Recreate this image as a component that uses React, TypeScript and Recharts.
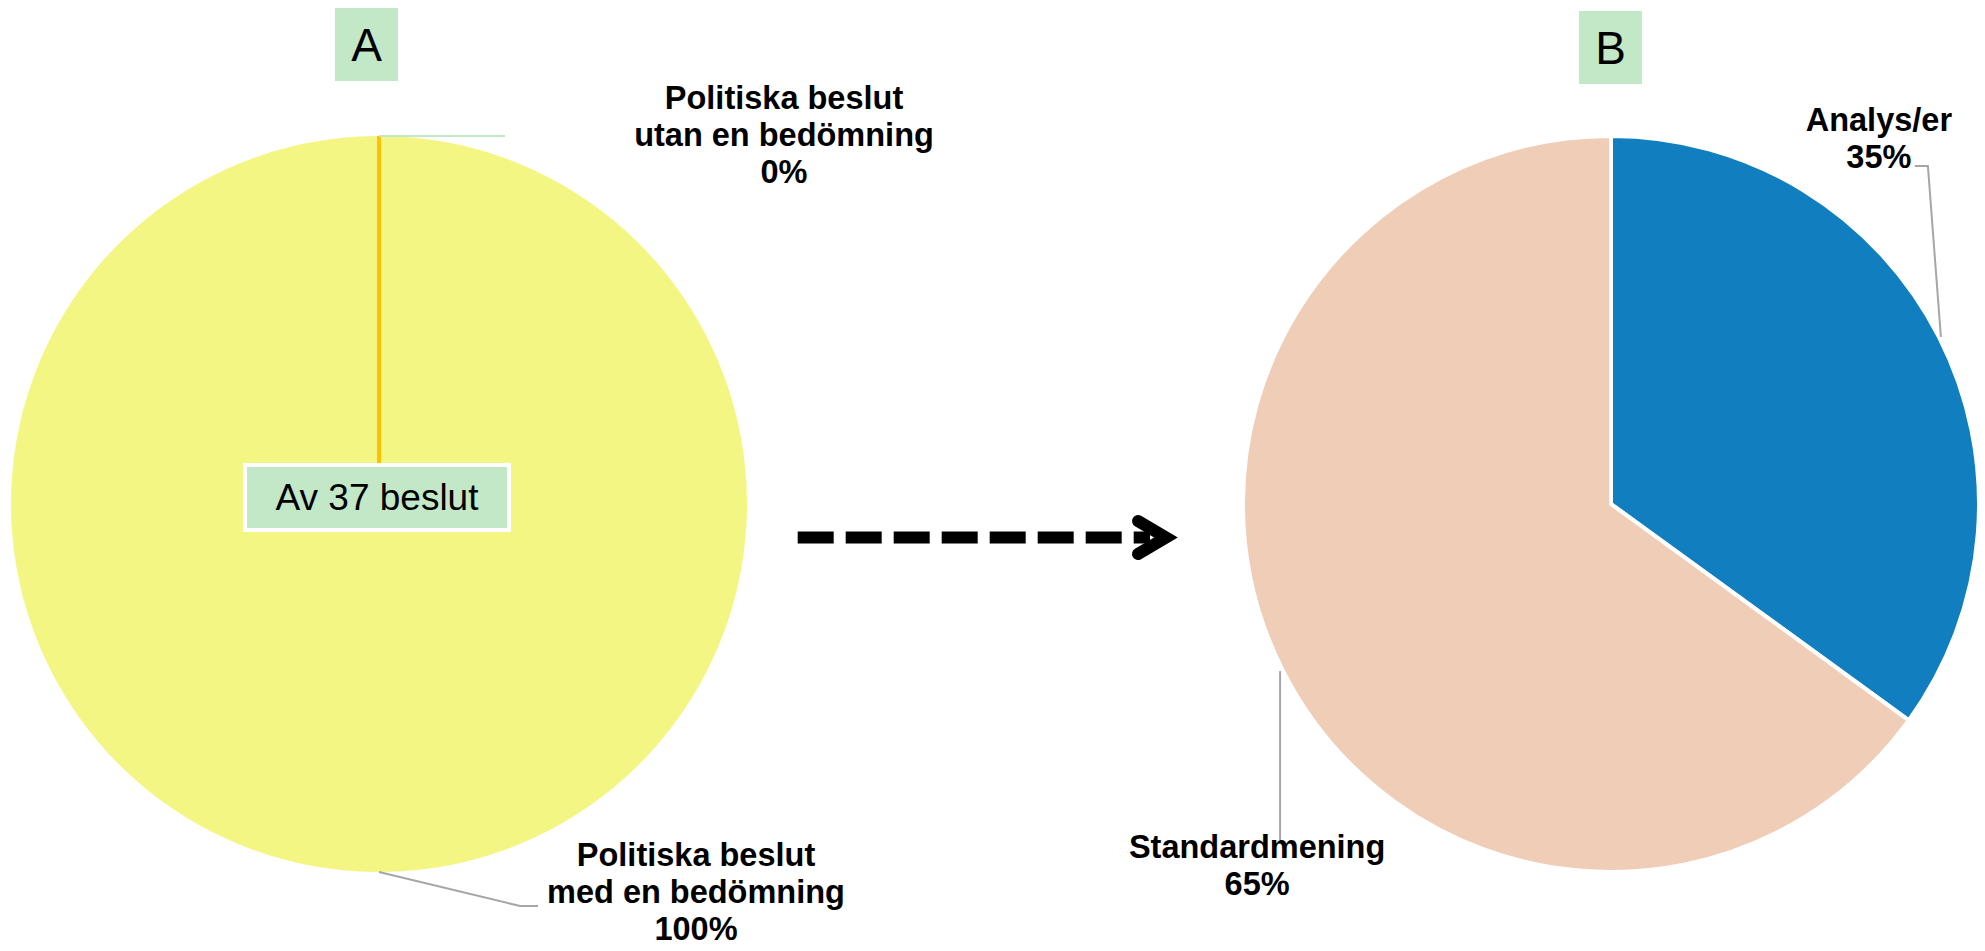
import React from "react";
import { Cell, Pie, PieChart } from "recharts";

// A: andel politiska beslut med/utan bedömning
const beslutCategories = ["Politiska beslut\nmed en bedömning", "Politiska beslut\nutan en bedömning"];
const beslutShares = [100, 0];
const beslutTotal = 37;

// B: typ av bedömning
const bedomningCategories = ["Analys/er", "Standardmening"];
const bedomningShares = [35, 65];

const FONT = "'Liberation Sans', Arial, sans-serif";
const RADIAN = Math.PI / 180;
const GRAY = "#A6A6A6";
const MINT = "#C2E8C8";

const beslutData = beslutCategories.map((name, i) => ({ name, value: beslutShares[i] }));
const bedomningData = bedomningCategories.map((name, i) => ({ name, value: bedomningShares[i] }));

type Layout = { leader: number[][]; color: string; tx: number; ty: number; spoke?: string };

// label placement relative to the point on the rim at the slice's mid angle
const layoutA: Layout[] = [
  { leader: [[0, 0], [141, 34], [159, 34]], color: GRAY, tx: 317, ty: -6 },
  { leader: [[0, 0], [126, 0]], color: MINT, tx: 405, ty: -27, spoke: "#FFC000" },
];
const layoutB: Layout[] = [
  { leader: [[2, 0], [-11, -171], [-24, -171]], color: GRAY, tx: -60, ty: -206 },
  { leader: [[-3, 0], [-3, 169]], color: GRAY, tx: -26, ty: 187 },
];

function makeLabel(layout: Layout[]) {
  return (props: any) => {
    const { cx, cy, midAngle, outerRadius, percent, index, name } = props;
    const ex = cx + outerRadius * Math.cos(-midAngle * RADIAN);
    const ey = cy + outerRadius * Math.sin(-midAngle * RADIAN);
    const l = layout[index];
    const lines = [...String(name).split("\n"), `${Math.round(percent * 100)}%`];
    return (
      <g key={`lbl-${index}`}>
        {l.spoke && <line x1={cx} y1={cy} x2={ex} y2={ey} stroke={l.spoke} strokeWidth={4} />}
        <polyline
          points={l.leader.map(([dx, dy]) => `${ex + dx},${ey + dy}`).join(" ")}
          fill="none"
          stroke={l.color}
          strokeWidth={2}
        />
        <text
          x={ex + l.tx}
          y={ey + l.ty}
          textAnchor="middle"
          fontFamily={FONT}
          fontWeight={700}
          fontSize={32.5}
          fill="#000"
        >
          {lines.map((t, i) => (
            <tspan key={i} x={ex + l.tx} dy={i === 0 ? 0 : 37}>
              {t}
            </tspan>
          ))}
        </text>
      </g>
    );
  };
}

const letterBox = (left: number, top: number, letter: string) => (
  <div
    style={{
      position: "absolute",
      left,
      top,
      width: 63,
      height: 73,
      background: MINT,
      display: "flex",
      alignItems: "center",
      justifyContent: "center",
      fontFamily: FONT,
      fontSize: 46,
      color: "#000",
    }}
  >
    {letter}
  </div>
);

export default function App() {
  return (
    <div style={{ position: "relative", width: 1985, height: 951, background: "#fff" }}>
      <style>{"body{margin:0}"}</style>
      <PieChart width={1985} height={951} margin={{ top: 0, right: 0, bottom: 0, left: 0 }}>
        <Pie
          data={beslutData}
          dataKey="value"
          nameKey="name"
          cx={379}
          cy={504}
          outerRadius={368}
          startAngle={90}
          endAngle={-270}
          stroke="none"
          labelLine={false}
          label={makeLabel(layoutA)}
          isAnimationActive={false}
        >
          <Cell fill="#F3F683" />
          <Cell fill="#FFC000" />
        </Pie>
        <Pie
          data={bedomningData}
          dataKey="value"
          nameKey="name"
          cx={1611}
          cy={504}
          outerRadius={368}
          startAngle={90}
          endAngle={-270}
          stroke="#fff"
          strokeWidth={4}
          labelLine={false}
          label={makeLabel(layoutB)}
          isAnimationActive={false}
        >
          <Cell fill="#117FBF" />
          <Cell fill="#EFCDB7" />
        </Pie>
      </PieChart>

      {letterBox(335, 8, "A")}
      {letterBox(1579, 11, "B")}

      {/* totalt antal beslut */}
      <div
        style={{
          position: "absolute",
          left: 243,
          top: 463,
          width: 260,
          height: 61,
          border: "4px solid #fff",
          background: MINT,
          display: "flex",
          alignItems: "center",
          justifyContent: "center",
          fontFamily: FONT,
          fontSize: 37,
          color: "#000",
        }}
      >
        Av {beslutTotal} beslut
      </div>

      {/* streckad pil från A till B */}
      <svg width={1985} height={951} style={{ position: "absolute", left: 0, top: 0, pointerEvents: "none" }}>
        <line x1={797.7} y1={537.5} x2={1150} y2={537.5} stroke="#000" strokeWidth={12} strokeDasharray="36 12" />
        <polyline
          points="1138,521 1166,537.5 1138,554"
          fill="none"
          stroke="#000"
          strokeWidth={12}
          strokeLinecap="round"
          strokeLinejoin="miter"
        />
      </svg>
    </div>
  );
}
